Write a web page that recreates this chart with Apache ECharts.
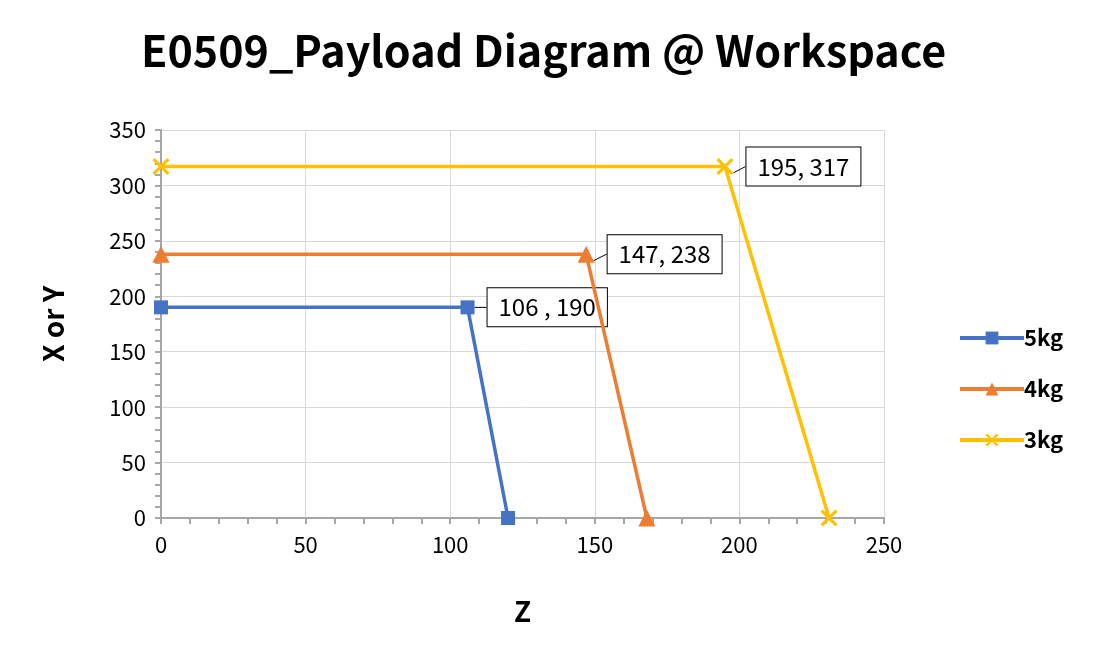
<!DOCTYPE html>
<html><head><meta charset="utf-8">
<script src="https://cdn.jsdelivr.net/npm/echarts@6/dist/echarts.min.js"></script>
<style>html,body{margin:0;padding:0;background:#fff}#c{width:1100px;height:665px}</style>
</head><body><div id="c"></div>
<script>
const seriesNames = ['5kg', '4kg', '3kg'];
const z5 = [0, 106, 120];
const v5 = [190, 190, 0];
const z4 = [0, 147, 168];
const v4 = [238, 238, 0];
const z3 = [0, 195, 231];
const v3 = [317, 317, 0];
const labelIndex = 1;
const labelTexts = ['106 , 190', '147, 238', '195, 317'];
const colors = ['#4472C4', '#ED7D31', '#FFC000'];
const xTicks = [0, 50, 100, 150, 200, 250];
const yTicks = [0, 50, 100, 150, 200, 250, 300, 350];

const FONT = '"Noto Sans CJK KR", "Noto Sans", sans-serif';
const xSym = 'path://M0,1.3L1.3,0L5,3.7L8.7,0L10,1.3L6.3,5L10,8.7L8.7,10L5,6.3L1.3,10L0,8.7L3.7,5Z';
const symbols = ['rect', 'triangle', xSym];
const sizes = [14, 17, 17];

function mk(i, zs, vs) {
  const data = zs.map((z, k) => {
    const d = { value: [z, vs[k]] };
    if (k === labelIndex) {
      d.label = {
        show: true, position: 'right', distance: 4,
        formatter: labelTexts[i],
        backgroundColor: '#fff', borderColor: '#000', borderWidth: 1,
        padding: [8, 11, 6, 11], color: '#000', fontSize: 24, fontFamily: FONT
      };
      d.labelLine = { show: true, lineStyle: { color: '#000', width: 1 } };
    }
    return d;
  });
  return {
    name: seriesNames[i], type: 'line', data,
    symbol: symbols[i], symbolSize: sizes[i], showAllSymbol: true,
    lineStyle: { color: colors[i], width: 3.5 },
    itemStyle: { color: colors[i] },
    label: { show: false },
    labelLayout: { dx: 9 },
    z: 3 + i
  };
}

const chart = echarts.init(document.getElementById('c'), null, { renderer: 'canvas' });
const axisCommon = {
  min: 0,
  interval: 50,
  axisLine: { show: true, lineStyle: { color: '#a6a6a6', width: 2 } },
  axisTick: { show: true, inside: false, length: 6, lineStyle: { color: '#a6a6a6', width: 2 } },
  minorTick: { show: true, splitNumber: 5, length: 6, lineStyle: { color: '#a6a6a6', width: 2 } },
  splitLine: { show: true, lineStyle: { color: '#d9d9d9', width: 1 } },
  axisLabel: { color: '#000', fontSize: 22, fontFamily: FONT },
  nameLocation: 'middle',
  nameTextStyle: { color: '#000', fontSize: 28, fontWeight: 'bold', fontFamily: FONT }
};
chart.setOption({
  backgroundColor: '#fff',
  animation: false,
  title: {
    text: 'E0509_Payload Diagram @ Workspace',
    left: 136, top: 24,
    textStyle: { fontSize: 43, fontWeight: 'bold', color: '#000', fontFamily: FONT }
  },
  legend: {
    orient: 'vertical', left: 953, top: 322,
    itemWidth: 64, itemHeight: 16, itemGap: 29,
    data: seriesNames,
    lineStyle: { width: 4 },
    textStyle: { fontSize: 22, fontWeight: 'bold', color: '#000', fontFamily: FONT, padding: [0, 0, 0, -5] }
  },
  grid: { left: 161, top: 130, width: 723, height: 388, containLabel: false },
  xAxis: Object.assign({}, axisCommon, {
    type: 'value', max: 250, name: 'Z', nameGap: 79,
    axisLabel: Object.assign({}, axisCommon.axisLabel, { margin: 16, customValues: xTicks })
  }),
  yAxis: Object.assign({}, axisCommon, {
    type: 'value', max: 350, name: 'X or Y', nameGap: 94,
    axisLabel: Object.assign({}, axisCommon.axisLabel, { margin: 15, customValues: yTicks })
  }),
  series: [mk(0, z5, v5), mk(1, z4, v4), mk(2, z3, v3)]
});
</script></body></html>
